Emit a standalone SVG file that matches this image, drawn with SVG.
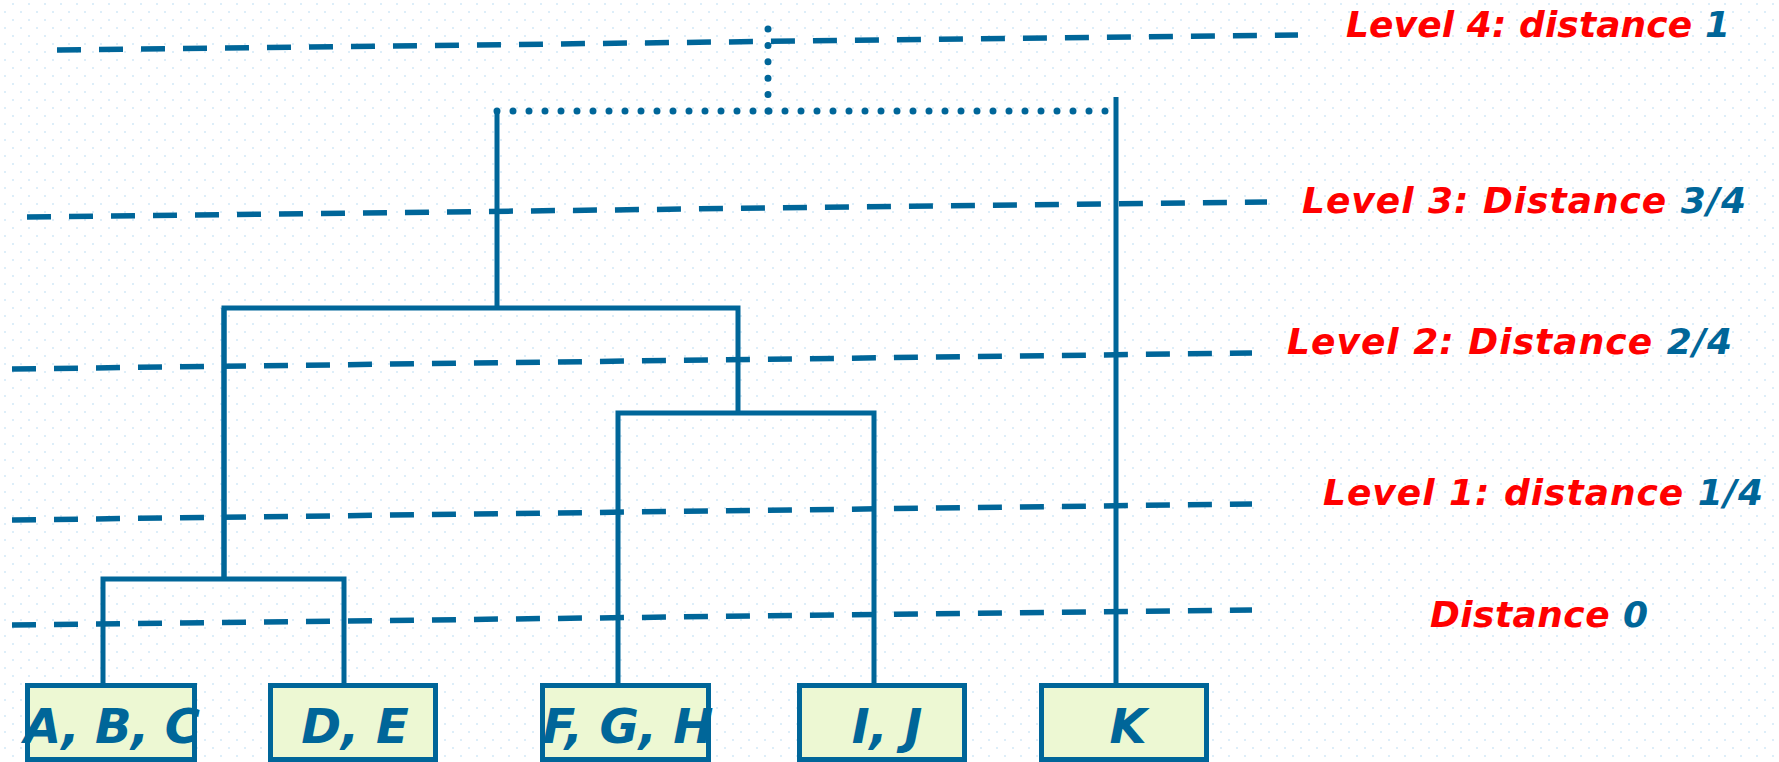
<svg xmlns="http://www.w3.org/2000/svg" width="1779" height="762" viewBox="0 0 1779 762">
<style>
.lvl{fill:none;stroke:#006699;stroke-width:5.5;stroke-dasharray:24 18}
.tree{fill:none;stroke:#006699;stroke-width:5}
.dot{fill:none;stroke:#006699;stroke-width:7;stroke-linecap:round}
.box{fill:#EDF8D3;stroke:#006699;stroke-width:5}
.lbl{font-family:"DejaVu Sans",sans-serif;font-weight:bold;font-style:italic;font-size:36px;fill:#FF0000}
.num{fill:#006699}
.btx{font-family:"DejaVu Sans",sans-serif;font-weight:bold;font-style:italic;font-size:48px;fill:#006699;text-anchor:middle}
</style>
<defs>
<pattern id="grid" width="16" height="16" patternUnits="userSpaceOnUse">
<rect x="12" y="3" width="2" height="2" fill="#DDEEF9"/>
<rect x="4" y="11" width="2" height="2" fill="#DDEEF9"/>
</pattern>
</defs>
<rect width="1779" height="762" fill="#FFFFFF"/>
<rect width="1779" height="762" fill="url(#grid)"/>
<g id="levels">
<line class="lvl" x1="57" y1="50" x2="1298" y2="35"/>
<line class="lvl" x1="27" y1="217" x2="1267" y2="202"/>
<line class="lvl" x1="12" y1="369" x2="1252" y2="353"/>
<line class="lvl" x1="12" y1="520" x2="1252" y2="504"/>
<line class="lvl" x1="12" y1="625" x2="1252" y2="610"/>
</g>
<g id="connectors">
<line class="dot" x1="768" y1="111" x2="768" y2="29" style="stroke-dasharray:0 16.4"/>
<line class="dot" x1="497" y1="111" x2="1110" y2="111" style="stroke-dasharray:0 16"/>
<line class="tree" x1="1116" y1="97" x2="1116" y2="686"/>
<line class="tree" x1="497" y1="111" x2="497" y2="308"/>
<path class="tree" d="M224 580 V308 H738 V413"/>
<path class="tree" d="M618 686 V413 H874 V686"/>
<path class="tree" d="M103 686 V579 H344 V686"/>
<line class="tree" x1="224" y1="308" x2="224" y2="581"/>
</g>
<g id="node-abc"><rect class="box" x="27.5" y="685.5" width="167" height="74"/><text class="btx" x="112" y="743" textLength="176">A, B, C</text></g>
<g id="node-de"><rect class="box" x="270.5" y="685.5" width="165" height="74"/><text class="btx" x="355" y="743">D, E</text></g>
<g id="node-fgh"><rect class="box" x="542.5" y="685.5" width="166" height="74"/><text class="btx" x="628" y="743" textLength="171">F, G, H</text></g>
<g id="node-ij"><rect class="box" x="799.5" y="685.5" width="165" height="74"/><text class="btx" x="887" y="743">I, J</text></g>
<g id="node-k"><rect class="box" x="1041.5" y="685.5" width="165" height="74"/><text class="btx" x="1128" y="743">K</text></g>
<g id="labels">
<text class="lbl" x="1346" y="37" textLength="384">Level 4: distance <tspan class="num">1</tspan></text>
<text class="lbl" x="1302" y="213" textLength="444">Level 3: Distance <tspan class="num">3/4</tspan></text>
<text class="lbl" x="1287" y="354" textLength="445">Level 2: Distance <tspan class="num">2/4</tspan></text>
<text class="lbl" x="1323" y="505" textLength="440">Level 1: distance <tspan class="num">1/4</tspan></text>
<text class="lbl" x="1430" y="627" textLength="218">Distance <tspan class="num">0</tspan></text>
</g>
</svg>
